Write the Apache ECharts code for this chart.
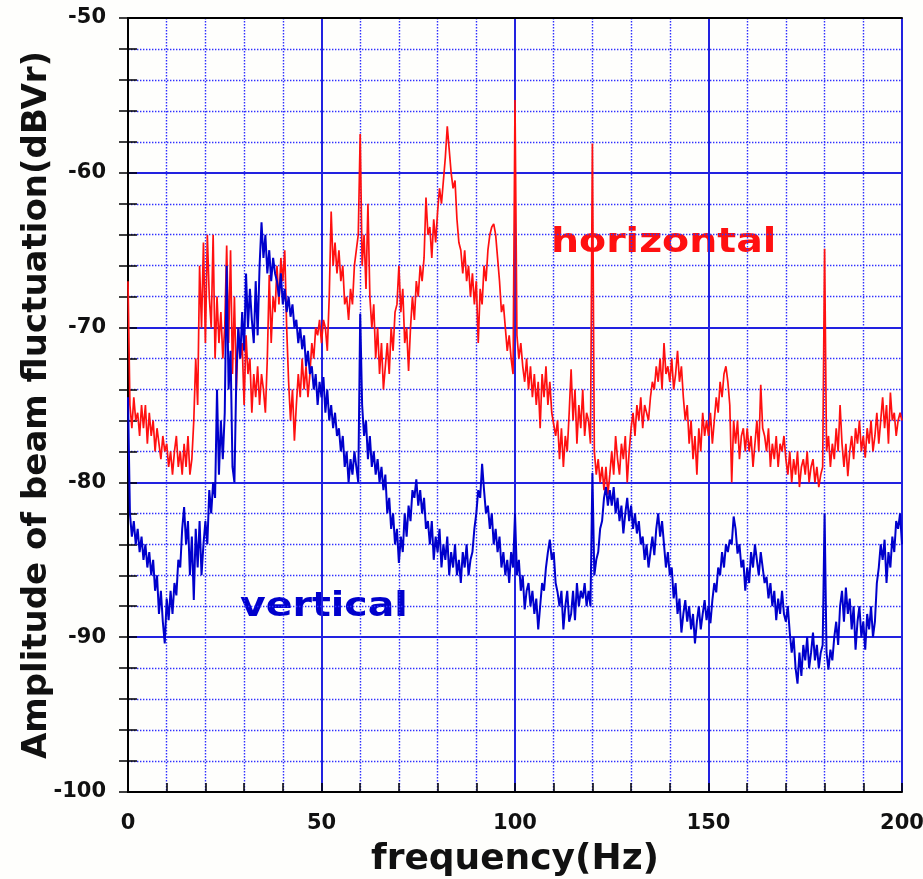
<!DOCTYPE html>
<html>
<head>
<meta charset="utf-8">
<title>beam fluctuation spectrum</title>
<script src="https://cdn.jsdelivr.net/npm/echarts@6/dist/echarts.min.js"></script>
<style>
  html, body { margin: 0; padding: 0; background: #fefefc; }
  #chart { width: 923px; height: 879px; }
</style>
</head>
<body>
<div id="chart"></div>
<script>
var FREQ_STEP = 0.5;

var horizontal = [
    -67, -75, -76.5, -74.5, -76, -75.5, -77, -75, -76.5, -75,
    -77.5, -75.5, -77, -76, -78, -76.5, -77.5, -78.5, -77, -78,
    -77.5, -79, -78, -79.5, -78, -77, -79, -78, -79.5, -77.5,
    -79, -77, -79.5, -78.5, -76, -72, -75, -66, -70, -64.5,
    -71, -64, -68, -70, -64, -72, -68, -71, -69, -72,
    -70, -64.7, -71, -65, -73, -68, -74, -70, -72, -71,
    -75, -70.5, -73, -72, -75.5, -73, -74.5, -72.5, -75, -73,
    -74, -75.5, -72, -66.6, -71, -68, -69, -66, -68.5, -65.5,
    -67, -65, -70, -73.5, -76, -74, -77.3, -75, -73, -74.5,
    -72, -74, -72.5, -74.5, -73, -71, -72, -70, -70.5, -69.5,
    -71, -69.5, -70, -71.5, -68, -62.5, -66, -64.5, -66.5, -65,
    -67, -66, -68.5, -68, -69.5, -67.5, -68.5, -66, -65, -64,
    -57.5, -66, -64, -67.5, -62, -68, -70, -68.5, -72, -70,
    -73, -71, -74, -72.5, -71, -73, -70, -71.5, -69, -68.5,
    -66, -69, -67.5, -71, -70, -72.8, -70, -68, -69.5, -67,
    -68, -66, -67, -65.5, -61.6, -64, -63.5, -65.5, -63, -64.5,
    -62.5, -61, -62, -60.5, -59, -57, -58.5, -60, -61, -60.5,
    -63, -64.5, -65, -66.5, -65, -67, -66, -68, -66.5, -68.5,
    -67, -71, -67.5, -68.5, -66, -67, -65, -64, -63.5, -63.3,
    -64, -65.5, -67, -69, -68.5, -70, -71.5, -70.5, -72, -73,
    -55.3, -70.5, -72, -71, -72.5, -73.5, -72, -74, -72.5, -74.5,
    -73, -75, -73.5, -76.5, -73, -74.5, -72.5, -75, -73.5, -75.5,
    -75.5, -77, -76, -78.5, -76.5, -79, -77, -78, -75.5, -72.7,
    -76, -74, -77.5, -75, -76.5, -74, -77, -75.5, -76, -77.5,
    -58.1, -78, -79.5, -78.5, -80, -79, -80.5, -79, -80.8, -79.5,
    -78, -79.5, -77, -78.5, -79.5, -77.5, -78.5, -77, -80, -78,
    -76.5, -75.5, -77, -75, -76, -74.5, -76.5, -75, -75.5, -76,
    -74.5, -73.5, -74, -72.5, -73.5, -72, -74, -71, -73, -72.5,
    -73.5, -72, -74, -73, -71.5, -73.5, -72.5, -74.5, -76, -75,
    -77.5, -76, -78.5, -77, -79.5, -76.5, -78, -75.5, -77, -76,
    -77, -75.5, -77.5, -76, -74.5, -75.5, -73.5, -74.5, -73, -72.5,
    -73.5, -75, -80, -76, -77.5, -76, -78.5, -77, -76.5, -78,
    -76.5, -78, -77, -79, -77.5, -76, -78, -73.7, -76.5, -77,
    -78, -76.5, -79, -77.5, -78.5, -77, -79, -77.5, -78, -77,
    -78.5, -79.5, -78, -80, -78.5, -79.5, -78, -80.3, -79, -78.5,
    -79.5, -78, -80, -79, -78.5, -80, -79, -80.3, -79.5, -79,
    -64.9, -78, -77, -79, -77.5, -78.5, -76.5, -78, -75, -77.5,
    -79, -77.5, -79.6, -78, -77, -78.5, -76.5, -77.5, -76, -78,
    -77, -78.4, -76.5, -77.5, -76, -78, -77, -75.5, -77.5, -76,
    -74.5, -76.5, -75, -77.5, -74.2, -76, -75.5, -77, -76, -75.5,
    -76
];

var vertical = [
    -74.5, -82, -83.5, -82.5, -84, -83, -84.5, -83.5, -85, -84,
    -85.5, -84.5, -86, -85, -87, -86, -88.5, -87, -89, -90.4,
    -87.5, -88.9, -87, -88.5, -86.5, -87.3, -85, -85.5, -83, -81.6,
    -84, -82.5, -86, -83.5, -87.6, -83, -85.5, -82.5, -86, -84,
    -82.5, -84, -80.5, -82, -80, -81, -74, -79.5, -76, -78.5,
    -75.5, -66, -74, -71.5, -79, -80, -73, -70, -72, -69,
    -71.5, -66.5, -70, -67.5, -69.5, -71, -67, -70.5, -66, -63.2,
    -65.5, -64, -66.5, -65, -67, -65.5, -66.5, -67, -68, -66.5,
    -68.5, -67.5, -69, -68, -69.3, -68.5, -70, -69.5, -71, -70,
    -71.4, -70.5, -72.5, -71.5, -73, -72.5, -74, -73, -75, -73.5,
    -74.5, -73.2, -75.5, -74, -76, -75, -76.5, -75.5, -77, -76.5,
    -78, -77, -79, -78, -80, -78.5, -79.5, -78, -79, -80,
    -69.1, -75, -77, -76, -78.5, -77, -79, -78, -79.5, -78.5,
    -80, -79, -80.5, -79.5, -82, -81, -83, -82, -84, -83,
    -85.2, -83.5, -84.5, -82, -83.5, -81.5, -82.5, -80.5, -81, -79.8,
    -81.5, -80.5, -82, -81, -83, -82.5, -84, -82.5, -85, -83.5,
    -84.5, -83, -85.5, -84, -85, -83.5, -86, -84.5, -85.5, -84,
    -86, -85, -86.5, -84.5, -85.5, -84, -86, -85, -84.5, -83,
    -82, -80.5, -81, -78.8, -80.5, -82, -81.5, -83, -82, -84,
    -83, -84.5, -83.5, -85.5, -84.5, -86, -85, -86.5, -84.5, -85.5,
    -82, -86, -85, -87, -86, -88.2, -87, -86.5, -88, -87,
    -88.5, -87.5, -89.5, -88, -86.5, -87, -85.5, -84.5, -83.7, -85,
    -84.5, -86.5, -87.1, -88, -87, -89.5, -88, -87, -89, -88.5,
    -87, -88.9, -86.5, -88, -87, -87.5, -86.5, -88, -87, -88,
    -79.4, -86, -85, -84.5, -83, -82.5, -81, -80.3, -81.5, -80.5,
    -81.5, -80.3, -82, -81, -82.5, -81.5, -83.3, -82, -81, -82.5,
    -81.5, -83, -82, -83.3, -82.5, -84, -83.5, -85, -84, -85.5,
    -84.5, -83.5, -84.7, -83, -82, -83.5, -82.5, -84, -85.5, -84.5,
    -86, -85.5, -87.5, -86.5, -88.5, -87.5, -89.7, -88.5, -87.6, -89,
    -88, -89.5, -88.5, -90.4, -89, -88, -89.5, -88.5, -87.6, -88.9,
    -88, -89.1, -87.6, -86.5, -87.1, -85.5, -86, -84.5, -85.5, -84,
    -84.5, -83.7, -84, -82.2, -83, -84.6, -84, -85.5, -85, -87,
    -85.5, -86.5, -84.5, -85.5, -84, -85, -86, -84.5, -85.5, -86.5,
    -86.1, -87.5, -86.5, -88, -87, -88.9, -87.5, -88.5, -87, -88.5,
    -89, -88, -89.7, -91, -90, -92, -93, -91, -92.5, -90.5,
    -91.5, -90, -92, -91, -89.7, -91.5, -90.5, -92, -91, -90.5,
    -82, -91, -92.1, -90.8, -91.5, -90, -89, -90.5, -88, -87,
    -89, -86.8, -88.5, -87.5, -89.5, -88, -90.8, -89, -88, -90,
    -89, -90.8, -88.5, -89.5, -88, -90, -89, -86.5, -85.5, -84,
    -85, -83.7, -86.5, -84.5, -85.5, -83.5, -84.5, -82.5, -83, -82,
    -84
];

var freqRange = [0, 200];
var ampRange = [-100, -50];

function toPoints(values) {
    return values.map(function (v, i) { return [i * FREQ_STEP, v]; });
}

var chart = echarts.init(document.getElementById('chart'));

var frame = { lineStyle: { color: '#000', width: 2 } };
var tick = { inside: true, length: 9, lineStyle: { color: '#000', width: 1.5 } };
var minorTick = { show: true, splitNumber: 5, length: 9, lineStyle: { color: '#000', width: 1.5 } };
var majorGrid = { show: true, lineStyle: { color: '#2222e0', width: 2 } };
var minorGrid = { show: true, lineStyle: { color: '#2f2fff', width: 1.4, type: [1.4, 1.6] } };
var labelFont = { fontFamily: 'DejaVu Sans', fontWeight: 'bold', fontSize: 21, color: '#111' };

chart.setOption({
    backgroundColor: '#fefefc',
    animation: false,
    grid: { left: 128, right: 21, top: 18, bottom: 87, outerBoundsMode: 'none' },
    xAxis: [{
        type: 'value',
        min: freqRange[0], max: freqRange[1], interval: 50,
        position: 'bottom',
        axisLine: frame,
        axisTick: tick,
        minorTick: minorTick,
        splitLine: majorGrid,
        minorSplitLine: minorGrid,
        axisLabel: Object.assign({ margin: 21 }, labelFont),
        name: 'frequency(Hz)',
        nameLocation: 'middle',
        nameGap: 50,
        nameMoveOverlap: false,
        nameTextStyle: { fontFamily: 'DejaVu Sans', fontWeight: 'bold', fontSize: 36, color: '#111' }
    }, {
        type: 'value',
        min: freqRange[0], max: freqRange[1],
        position: 'top',
        axisLine: frame,
        axisTick: { show: false },
        axisLabel: { show: false },
        splitLine: { show: false }
    }],
    yAxis: [{
        type: 'value',
        min: ampRange[0], max: ampRange[1], interval: 10,
        position: 'left',
        axisLine: frame,
        axisTick: tick,
        minorTick: minorTick,
        splitLine: majorGrid,
        minorSplitLine: minorGrid,
        axisLabel: Object.assign({ margin: 22 }, labelFont),
        name: 'Amplitude of beam fluctuation(dBVr)',
        nameLocation: 'middle',
        nameGap: 74,
        nameMoveOverlap: false,
        nameTextStyle: { fontFamily: 'DejaVu Sans', fontWeight: 'bold', fontSize: 34, color: '#111' }
    }, {
        type: 'value',
        min: ampRange[0], max: ampRange[1], interval: 10,
        position: 'right',
        axisLine: frame,
        axisTick: tick,
        minorTick: minorTick,
        axisLabel: { show: false },
        splitLine: { show: false }
    }],
    series: [{
        name: 'horizontal',
        type: 'line',
        showSymbol: false,
        lineStyle: { color: '#ff1010', width: 1.7 },
        data: toPoints(horizontal)
    }, {
        name: 'vertical',
        type: 'line',
        showSymbol: false,
        lineStyle: { color: '#0000cc', width: 2 },
        data: toPoints(vertical)
    }],
    graphic: [{
        type: 'text', left: 551, top: 226,
        scaleX: 1.16,
        style: { text: 'horizontal', fill: '#ff1010', font: 'bold 34px "DejaVu Sans"' }
    }, {
        type: 'text', left: 240, top: 590,
        scaleX: 1.16,
        style: { text: 'vertical', fill: '#0000cc', font: 'bold 34px "DejaVu Sans"' }
    }]
});
</script>
</body>
</html>
